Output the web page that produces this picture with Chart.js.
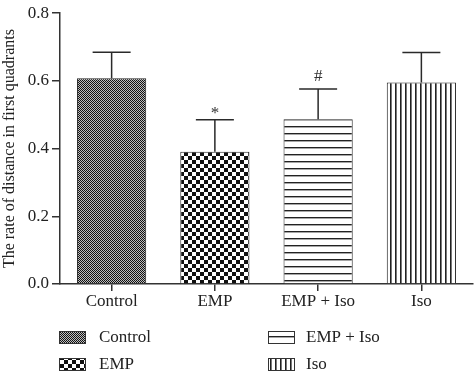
<!DOCTYPE html>
<html>
<head>
<meta charset="utf-8">
<script src="https://cdn.jsdelivr.net/npm/chart.js@4/dist/chart.umd.min.js"></script>
<style>
html,body{margin:0;padding:0;background:#fff;}
#wrap{width:474px;height:377px;position:relative;}
</style>
</head>
<body>
<div id="wrap"><canvas id="c" width="474" height="377"></canvas></div>
<script>
const categories = ['Control', 'EMP', 'EMP + Iso', 'Iso'];
const means = [0.608, 0.391, 0.487, 0.595];
const errors = [0.077, 0.094, 0.089, 0.089];
const marks = ['', '*', '#', ''];
const yTicks = [0.0, 0.2, 0.4, 0.6, 0.8];
const yTitle = 'The rate of distance in first quadrants';

const FONT = "'Liberation Serif', 'DejaVu Serif', serif";

function makePattern(kind) {
  const c = document.createElement('canvas');
  const g = c.getContext('2d');
  if (kind === 0) {
    c.width = 2; c.height = 2;
    g.fillStyle = '#bdbdbd'; g.fillRect(0,0,2,2);
    g.fillStyle = '#111'; g.fillRect(0,0,1,1); g.fillRect(1,1,1,1);
  } else if (kind === 1) {
    c.width = 8; c.height = 8;
    g.fillStyle = '#fff'; g.fillRect(0,0,8,8);
    g.fillStyle = '#111'; g.fillRect(0,0,4,4); g.fillRect(4,4,4,4);
  } else if (kind === 2) {
    c.width = 4; c.height = 7;
    g.fillStyle = '#fff'; g.fillRect(0,0,4,7);
    g.fillStyle = '#222'; g.fillRect(0,0,4,1.4);
  } else {
    c.width = 5; c.height = 4;
    g.fillStyle = '#fff'; g.fillRect(0,0,5,4);
    g.fillStyle = '#222'; g.fillRect(0,0,1.6,4);
  }
  const ctx = document.getElementById('c').getContext('2d');
  return ctx.createPattern(c, 'repeat');
}
const patterns = [0,1,2,3].map(makePattern);

const errorBarPlugin = {
  id: 'errorBars',
  afterDatasetsDraw(chart) {
    const ctx = chart.ctx;
    const y = chart.scales.y;
    const meta = chart.getDatasetMeta(0);
    ctx.save();
    ctx.strokeStyle = '#2a2a2a';
    ctx.lineWidth = 1.5;
    meta.data.forEach((bar, i) => {
      const x = bar.x;
      const yb = y.getPixelForValue(means[i]);
      const yt = y.getPixelForValue(means[i] + errors[i]);
      ctx.beginPath();
      ctx.moveTo(x, yb); ctx.lineTo(x, yt);
      ctx.moveTo(x - 19, yt); ctx.lineTo(x + 19, yt);
      ctx.stroke();
      if (marks[i]) {
        ctx.fillStyle = '#333';
        ctx.font = '17px ' + FONT;
        ctx.textAlign = 'center';
        ctx.textBaseline = 'bottom';
        ctx.fillText(marks[i], x, yt - (marks[i] === '*' ? -2 : 4));
      }
    });
    ctx.restore();
  }
};

const legendPlugin = {
  id: 'gridLegend',
  afterDraw(chart) {
    const ctx = chart.ctx;
    const cols = [59, 268];
    const rows = [331, 358];
    const order = [[0,0],[1,0],[0,1],[1,1]]; // [row, col]
    ctx.save();
    categories.forEach((label, i) => {
      const r = order[i][0], c = order[i][1];
      const x = cols[c], yy = rows[r];
      ctx.fillStyle = patterns[i];
      ctx.fillRect(x, yy, 27, 13);
      ctx.strokeStyle = '#333';
      ctx.lineWidth = 1;
      ctx.strokeRect(x + 0.5, yy + 0.5, 26, 12);
      ctx.fillStyle = '#222';
      ctx.font = '17px ' + FONT;
      ctx.textAlign = 'left';
      ctx.textBaseline = 'middle';
      ctx.fillText(label, x + (c === 0 ? 40 : 38), yy + 7);
    });
    ctx.restore();
  }
};

new Chart(document.getElementById('c'), {
  type: 'bar',
  data: {
    labels: categories,
    datasets: [{
      data: means,
      backgroundColor: patterns,
      borderColor: '#222',
      borderWidth: 1,
      barPercentage: 0.67,
      categoryPercentage: 1.0
    }]
  },
  options: {
    responsive: false,
    animation: false,
    layout: { padding: { top: 7, right: 1, bottom: 63, left: 0 } },
    plugins: { legend: { display: false }, tooltip: { enabled: false } },
    scales: {
      x: {
        grid: { display: true, drawOnChartArea: false, drawTicks: true, tickLength: 7, offset: false, color: '#333', lineWidth: 1.5 },
        border: { display: true, color: '#333', width: 1.5 },
        ticks: { color: '#222', font: { family: FONT, size: 17 }, padding: 0 },
        afterFit(s) { s.height = 30; }
      },
      y: {
        min: 0, max: 0.8,
        afterBuildTicks(s) { s.ticks = yTicks.map(v => ({ value: v })); },
        grid: { display: true, drawOnChartArea: false, drawTicks: true, tickLength: 8, color: '#333', lineWidth: 1.5 },
        border: { display: true, color: '#333', width: 1.5 },
        ticks: { color: '#222', font: { family: FONT, size: 17 }, padding: 3, callback: v => v.toFixed(1) },
        title: { display: true, text: yTitle, color: '#222', font: { family: FONT, size: 16 }, padding: { top: 0, bottom: 0 } },
        afterFit(s) { s.width = 60; }
      }
    }
  },
  plugins: [errorBarPlugin, legendPlugin]
});
</script>
</body>
</html>
